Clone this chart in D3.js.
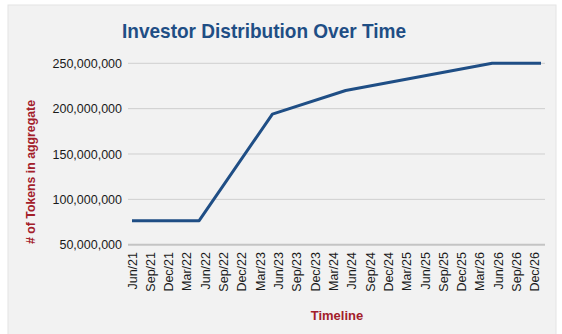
<!DOCTYPE html>
<html>
<head>
<meta charset="utf-8">
<script src="https://cdn.jsdelivr.net/npm/d3@7"></script>
<style>
  html, body { margin: 0; padding: 0; background: #ffffff; }
  svg { display: block; font-family: "Liberation Sans", Arial, sans-serif; }
</style>
</head>
<body>
<svg id="chart" width="562" height="334"></svg>
<script>
// Quarterly tick labels along the timeline (months counted from Jun/21)
const tickLabels = ["Jun/21","Sep/21","Dec/21","Mar/22","Jun/22","Sep/22","Dec/22","Mar/23",
  "Jun/23","Sep/23","Dec/23","Mar/24","Jun/24","Sep/24","Dec/24","Mar/25","Jun/25","Sep/25",
  "Dec/25","Mar/26","Jun/26","Sep/26","Dec/26"];
const tickMonths = tickLabels.map((d, i) => i * 3);

// Cumulative investor tokens at the turning points of the schedule
const pointMonths = [0, 11, 23, 35, 59, 67];
const pointTokens = [76500000, 76500000, 194000000, 220000000, 250000000, 250000000];

const yTicks = [50000000, 100000000, 150000000, 200000000, 250000000];

const svg = d3.select("#chart");

// panel background
svg.append("rect")
  .attr("x", 8).attr("y", 5).attr("width", 548).attr("height", 335)
  .attr("fill", "#f2f2f2").attr("stroke", "#e4e4e4").attr("stroke-width", 1);

const x = d3.scaleLinear().domain([0, 67]).range([132, 541]);
const y = d3.scaleLinear().domain([50000000, 250000000]).range([244.7, 63.3]);

// horizontal gridlines
svg.append("g").selectAll("line").data(yTicks).join("line")
  .attr("x1", 128).attr("x2", 545)
  .attr("y1", d => y(d)).attr("y2", d => y(d))
  .attr("stroke", d => d === 50000000 ? "#c4c4c4" : "#cfcfcf")
  .attr("stroke-width", d => d === 50000000 ? 2 : 1);

// y tick labels
const fmt = d3.format(",");
svg.append("g").selectAll("text").data(yTicks).join("text")
  .attr("x", 122).attr("y", d => y(d) + 4.5)
  .attr("text-anchor", "end")
  .attr("font-size", 12.5).attr("fill", "#1a1a1a")
  .text(d => fmt(d));

// x tick labels, rotated
svg.append("g").selectAll("text").data(tickLabels).join("text")
  .attr("transform", (d, i) => `translate(${x(tickMonths[i]) + 4.5},252) rotate(-90)`)
  .attr("text-anchor", "end")
  .attr("font-size", 12.5).attr("fill", "#1a1a1a")
  .text(d => d);

// token line
const line = d3.line()
  .x((d, i) => x(pointMonths[i]))
  .y(d => y(d));
svg.append("path")
  .datum(pointTokens)
  .attr("d", line)
  .attr("fill", "none")
  .attr("stroke", "#1f4e85")
  .attr("stroke-width", 3)
  .attr("stroke-linejoin", "round");

// title
svg.append("text")
  .attr("x", 264).attr("y", 38)
  .attr("text-anchor", "middle")
  .attr("font-size", 21).attr("font-weight", "bold")
  .attr("textLength", 284).attr("lengthAdjust", "spacingAndGlyphs")
  .attr("fill", "#1f4e85")
  .text("Investor Distribution Over Time");

// axis titles
svg.append("text")
  .attr("transform", "translate(34.5,172) rotate(-90)")
  .attr("text-anchor", "middle")
  .attr("font-size", 12.3).attr("font-weight", "bold")
  .attr("fill", "#a3202a")
  .text("# of Tokens in aggregate");

svg.append("text")
  .attr("x", 337).attr("y", 320)
  .attr("text-anchor", "middle")
  .attr("font-size", 13).attr("font-weight", "bold")
  .attr("fill", "#a3202a")
  .text("Timeline");
</script>
</body>
</html>
